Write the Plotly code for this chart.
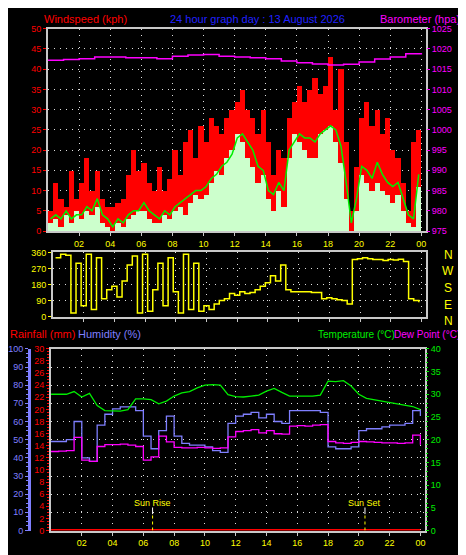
import plotly.graph_objects as go

# wind, 20 minute steps
wind_t = [i / 3 + 1 / 6 for i in range(72)]
gust = [5, 12, 8, 6, 15, 8, 12, 18, 10, 15, 8, 6, 6, 7, 8, 14, 20, 15,
        17, 12, 10, 16, 10, 13, 20, 14, 22, 25, 18, 26, 22, 28, 26, 24, 28, 30,
        32, 35, 30, 28, 24, 30, 22, 14, 20, 18, 28, 32, 36, 32, 35, 38, 34, 36,
        43, 30, 40, 22, 5, 16, 28, 32, 26, 30, 24, 28, 20, 18, 12, 5, 22, 25]
avg = [3, 4, 3, 5, 3, 4, 4, 6, 5, 8, 4, 3, 1, 3, 2, 4, 5, 5,
       7, 5, 4, 3, 5, 4, 6, 7, 8, 9, 10, 10, 11, 13, 14, 16, 17, 19,
       23, 24, 22, 20, 16, 15, 10, 9, 12, 10, 20, 22, 24, 23, 23, 22, 24, 25,
       26, 25, 21, 12, 2, 8, 16, 15, 13, 17, 14, 12, 11, 12, 8, 4, 3, 14]
speed = [2, 3, 1, 4, 2, 5, 3, 5, 4, 6, 2, 1, 0, 2, 1, 3, 4, 5,
         5, 3, 2, 2, 4, 3, 5, 6, 4, 7, 9, 8, 9, 12, 15, 14, 18, 20,
         24, 22, 18, 16, 12, 14, 8, 5, 10, 6, 18, 24, 22, 20, 18, 18, 24, 25,
         26, 22, 17, 8, 0, 5, 14, 12, 10, 12, 10, 9, 7, 9, 5, 2, 1, 11]
direction = [330, 350, 345, 20, 300, 60, 350, 40, 330, 100, 150, 170, 110, 200, 290,
             340, 20, 350, 30, 150, 300, 60, 330, 140, 20, 350, 40, 300, 30, 60,
             40, 70, 90, 100, 130, 120, 140, 130, 135, 150, 170, 190, 230, 200, 290,
             150, 140, 140, 140, 140, 135, 135, 100, 105, 100, 95, 90, 70, 320, 325,
             330, 325, 320, 320, 315, 320, 318, 322, 310, 100, 90, 80]

baro_t = list(range(25))
baro = [1017.2, 1017.4, 1017.6, 1018, 1018, 1017.8, 1017.8, 1017.6, 1018.2, 1018.5,
        1018.6, 1018.2, 1018.0, 1017.8, 1017.6, 1017.0, 1016.6, 1016.3, 1016.0, 1016.2,
        1016.8, 1017.5, 1018.0, 1018.8, 1019.0]

# half-hourly temperature / humidity / dew point
th_t = [i / 2 for i in range(49)]
temp = [30.0, 30.0, 30.0, 30.6, 29.4, 30.2, 27.5, 26.4, 26.3, 26.3, 26.6, 29.0, 29.0,
        28.8, 27.9, 28.5, 29.6, 30.3, 30.6, 31.4, 32.0, 32.1, 32.0, 29.9, 29.5, 29.4,
        29.6, 29.8, 30.7, 31.3, 30.4, 29.6, 29.6, 29.6, 29.6, 29.8, 32.9, 32.8, 33.0,
        31.8, 30.0, 29.1, 28.8, 28.6, 28.2, 28.0, 27.7, 27.3, 26.6]
hum = [49, 49, 50, 60, 40, 38, 58, 64, 67, 68, 68, 66, 52, 45, 55, 63, 52, 48, 47, 47,
       46, 44, 43, 59, 63, 64, 65, 62, 64, 60, 59, 66, 66, 66, 66, 65, 46, 45, 45, 46,
       55, 56, 56, 57, 58, 58, 59, 66, 63]
dew = [17.4, 17.5, 17.6, 20.5, 15.5, 15.2, 18.5, 18.9, 18.9, 19.0, 18.8, 18.5, 15.5,
       16.2, 20.8, 19.5, 18.3, 18.2, 18.2, 18.3, 18.2, 18.1, 18.2, 20.6, 21.8, 22.0,
       22.2, 21.5, 22.0, 21.3, 21.2, 23.0, 23.1, 23.0, 23.2, 23.3, 19.6, 19.3, 19.2,
       19.4, 19.6, 19.5, 19.4, 19.3, 19.3, 19.2, 19.3, 21.0, 18.9]
rain = [0] * 49

hour_vals = list(range(2, 25, 2))
hour_text = ["%02d" % (h % 24) for h in hour_vals]
sunrise, sunset = 6.6, 20.4

W, H = 466, 555
def px(x): return x / W
def py(y): return 1 - y / H

F = "Liberation Sans"
frame = dict(showline=True, mirror=True, linecolor="#c8c8c8", linewidth=2, zeroline=False)
grid = dict(showgrid=True, gridcolor="#dddddd", griddash="1px,5px", gridwidth=1)

fig = go.Figure()
fig.add_trace(go.Bar(x=wind_t, y=gust, width=1 / 3, marker=dict(color="#ff0000", line_width=0),
                     xaxis="x", yaxis="y"))
fig.add_trace(go.Bar(x=wind_t, y=speed, width=1 / 3, marker=dict(color="#ccffcc", line_width=0),
                     xaxis="x", yaxis="y"))
fig.add_trace(go.Scatter(x=wind_t, y=avg, mode="lines", line=dict(color="#00ee00", width=1.5),
                         xaxis="x", yaxis="y"))
fig.add_trace(go.Scatter(x=baro_t, y=baro, mode="lines", line=dict(color="#ff00ff", width=1.5, shape="hv"),
                         xaxis="x", yaxis="y2"))
fig.add_trace(go.Scatter(x=wind_t, y=direction, mode="lines", line=dict(color="#ffff00", width=1.5, shape="hv"),
                         xaxis="x2", yaxis="y3"))
fig.add_trace(go.Scatter(x=th_t, y=rain, mode="lines", line=dict(color="#ff0000", width=3),
                         xaxis="x3", yaxis="y5"))
fig.add_trace(go.Scatter(x=th_t, y=hum, mode="lines", line=dict(color="#7f7fff", width=1.3, shape="hv"),
                         xaxis="x3", yaxis="y4"))
fig.add_trace(go.Scatter(x=th_t, y=temp, mode="lines", line=dict(color="#00ee00", width=1.3),
                         xaxis="x3", yaxis="y6"))
fig.add_trace(go.Scatter(x=th_t, y=dew, mode="lines", line=dict(color="#ff00ff", width=1.3, shape="hv"),
                         xaxis="x3", yaxis="y6"))

xcommon = dict(range=[0, 24.3], tickvals=hour_vals, ticktext=hour_text, ticks="outside",
               ticklen=3, tickcolor="#c8c8c8", tickfont=dict(color="#ffff00", size=9, family=F), **frame, **grid)
tick = lambda c: dict(color=c, size=9, family=F)

fig.update_layout(
    width=W, height=H, margin=dict(l=0, r=0, t=0, b=0),
    paper_bgcolor="#000000", plot_bgcolor="#000000", showlegend=False,
    barmode="overlay", bargap=0,
    xaxis=dict(domain=[px(40), px(418)], anchor="y", **xcommon),
    xaxis2=dict(domain=[px(45), px(418)], anchor="y3", **{**xcommon, "showticklabels": False}),
    xaxis3=dict(domain=[px(43), px(417)], anchor="y5", **xcommon),
    yaxis=dict(domain=[py(222), py(16)], anchor="x", range=[0, 50], dtick=5, ticks="outside",
               ticklen=3, tickcolor="#ff0000", tickfont=tick("#ff0000"), **frame, **grid),
    yaxis2=dict(overlaying="y", side="right", anchor="x", range=[975, 1025], dtick=5, ticks="outside",
                ticklen=3, tickcolor="#ff00ff", tickfont=tick("#ff00ff"), showgrid=False, zeroline=False),
    yaxis3=dict(domain=[py(310), py(243)], anchor="x2", range=[-5, 365], tickvals=[0, 90, 180, 270, 360],
                ticks="outside", ticklen=3, tickcolor="#ffff00", tickfont=tick("#ffff00"), **frame, **grid),
    yaxis5=dict(domain=[py(527), py(342)], anchor="x3", range=[0, 30], dtick=2, ticks="outside",
                ticklen=3, tickcolor="#ff0000", tickfont=tick("#ff0000"),
                minor=dict(ticks="outside", ticklen=2, tickcolor="#ff0000", dtick=0.5),
                **frame, showgrid=False),
    yaxis4=dict(overlaying="y5", anchor="free", position=px(21), side="left", range=[0, 100], dtick=10,
                ticks="outside", ticklen=3, tickcolor="#7f7fff", tickfont=tick("#7f7fff"),
                showline=True, linecolor="#7f7fff", linewidth=3, zeroline=False,
                minor=dict(ticks="outside", ticklen=2, tickcolor="#7f7fff", dtick=2.5), **grid),
    yaxis6=dict(overlaying="y5", side="right", anchor="x3", range=[0, 40], dtick=5, ticks="outside",
                ticklen=3, tickcolor="#00ee00", tickfont=tick("#00ee00"),
                minor=dict(ticks="outside", ticklen=2, tickcolor="#00ee00", dtick=1),
                showgrid=False, zeroline=False),
)

def label(x, y, text, color, size=10, anchor="left"):
    fig.add_annotation(x=px(x), y=py(y), xref="paper", yref="paper", text=text, showarrow=False,
                       xanchor=anchor, yanchor="middle", xshift=0, font=dict(color=color, size=size, family=F))

label(34, 6, "Windspeed (kph)", "#ff0000", size=11)
label(250, 6, "24 hour graph day : 13 August 2026", "#2020ff", size=11, anchor="center")
label(454, 6, "Barometer (hpa)", "#ff00ff", size=11, anchor="right")
label(0, 327, "Rainfall (mm)", "#ff0000", size=11)
label(68, 327, "Humidity (%)", "#7f7fff", size=11)
label(308, 327, "Temperature (°C)", "#00ee00")
label(454, 327, "Dew Point (°C)", "#ff00ff", anchor="right")
for i, d in enumerate(["N", "W", "S", "E", "N"]):
    label(440, 246 + i * 17, d, "#ffff00", size=12, anchor="center")

for t, name in [(sunrise, "Sun Rise"), (sunset, "Sun Set")]:
    fig.add_shape(type="line", xref="x3", yref="y5", x0=t, x1=t, y0=0, y1=2.7,
                  line=dict(color="#ffff00", width=1, dash="dot"))
    fig.add_shape(type="line", xref="x3", yref="y5", x0=t, x1=t, y0=2.7, y1=3.8,
                  line=dict(color="#ffffff", width=1))
    fig.add_annotation(x=t, y=4.6, xref="x3", yref="y5", text=name, showarrow=False,
                       font=dict(color="#ffff00", size=9, family=F))

fig.write_html("out.html")
